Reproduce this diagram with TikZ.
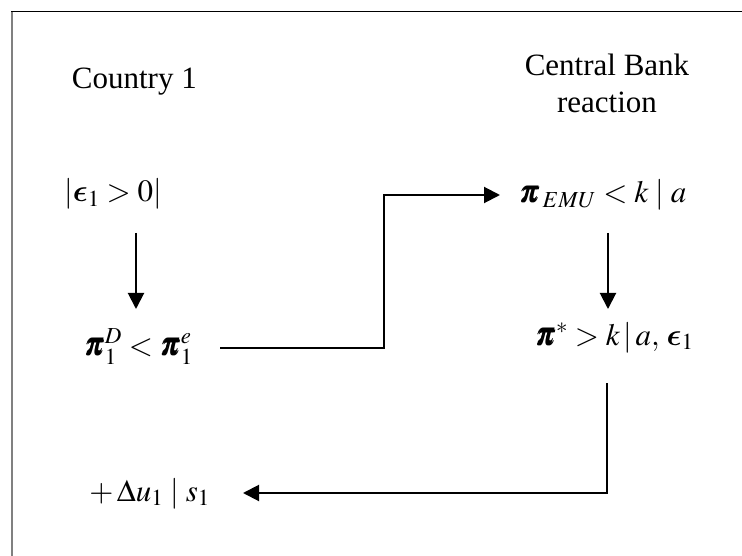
\documentclass[tikz,border=0pt]{standalone}
\usepackage{fix-cm}
\usepackage{amsmath}
\usepackage{mathptmx}
\usepackage{bm}
\usepackage[no-math]{fontspec}
\setmainfont{Liberation Serif}
\usetikzlibrary{arrows.meta}
% bold lunate epsilon
\DeclareSymbolFont{lunletters}{OML}{cmm}{b}{it}
\DeclareMathSymbol{\lunateps}{\mathord}{lunletters}{"0F}

\begin{document}
\begin{tikzpicture}[
  x=1pt, y=-1pt,
  lbl/.style={inner sep=0pt, font=\fontsize{31}{37}\selectfont},
  arr/.style={line width=2pt, -{Triangle[length=16pt,width=16pt]}}
]
  \useasboundingbox (0,0) rectangle (742,556);
  \draw[black!50, line width=2.5pt] (12,556) -- (12,11);
  \draw[line width=1.3pt] (11,11.5) -- (742,11.5);
  % column titles
  \node[lbl, anchor=base east] (cty) at (197,89) {Country 1};
  \node[lbl, align=center, anchor=base] (cb) at (607,113) {Central Bank\\reaction};
  % left column
  \node[lbl, anchor=base east] (eps) at (162,202) {$|\bm{\lunateps}_1\;{>}\;0|$};
  \node[lbl, anchor=base east] (piD) at (193,355) {$\bm{\pi}_1^D<\bm{\pi}_1^e$};
  \node[lbl, anchor=base east] (du) at (210,501) {$+\,\Delta u_1\;|\;s_1$};
  % right column
  \node[lbl, anchor=base west] (piE) at (519,203) {$\bm{\pi}_{\,EMU}<k\;|\;a$};
  \node[lbl, anchor=base west] (piS) at (535,345) {$\bm{\pi}^*>k\,|\,a,\,\bm{\lunateps}_1$};
  \coordinate (bend) at (384,270);
  \draw[arr] ([xshift=-26pt,yshift=-31pt]eps.base east) -- ([xshift=-57pt,yshift=46pt]piD.base east);
  \draw[arr] ([xshift=27pt,yshift=7pt]piD.base east) -| (bend) |- ([xshift=-19pt,yshift=8pt]piE.base west);
  \draw[arr] ([xshift=89pt,yshift=-30pt]piE.base west) -- ([xshift=73pt,yshift=36pt]piS.base west);
  \draw[arr] ([xshift=72pt,yshift=-38pt]piS.base west) |- ([xshift=33pt,yshift=8pt]du.base east);
\end{tikzpicture}
\end{document}
